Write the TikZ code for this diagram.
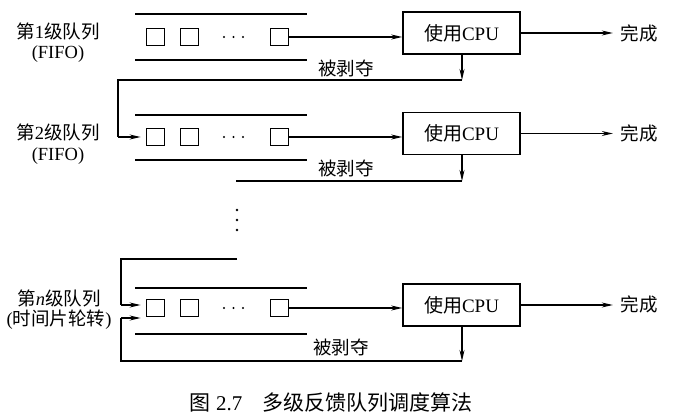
\documentclass[tikz,border=0pt]{standalone}
\usepackage{fontspec}
\setmainfont{Liberation Serif}
\newfontfamily\cjk{Noto Sans CJK SC}
\usetikzlibrary{arrows.meta}
\tikzset{
  sq/.style={draw, line width=1.8pt, minimum width=18pt, minimum height=17pt, inner sep=0pt},
  cpubox/.style={draw, line width=1.6pt, minimum width=117pt, minimum height=42pt, inner sep=0pt, font=\fontsize{19}{22}\selectfont},
  lbl/.style={inner sep=0pt, font=\fontsize{18.5}{22}\selectfont},
  conn/.style={line width=1.2pt},
  arr/.style={line width=1.2pt, -{Stealth[length=11pt,width=5pt]}},
  qline/.style={line width=1.2pt},
}
\begin{document}
\begin{tikzpicture}[x=1pt,y=-1pt]
\useasboundingbox (0,0) rectangle (677,419);
% ---------- row 1 ----------
\draw[qline] (135,14) -- (307,14);
\draw[qline] (135,60) -- (307,60);
\node[sq] (a1) at (155.5,37) {};
\node[sq] (a2) at (189.5,37) {};
\node[sq] (a3) at (279.5,37) {};
\foreach \x in {224,233.5,243} \fill (\x,37) circle (1.2);
\node[cpubox] (c1) at (461.5,33) {{\cjk 使用}CPU};
\node[lbl] (d1) at (639,33) {\cjk 完成};
\node[lbl] (l1a) at (58,31) {{\cjk 第}1{\cjk 级队列}};
\node[lbl] (l1b) at (58,54) {(FIFO)};
\node[lbl] (p1) at (346,68) {\cjk 被剥夺};
\draw[arr] (a3.east) -- (a3.east -| c1.west);
\draw[arr] (c1.east) -- ++(92,0);
\coordinate (f1) at (462,80);
\coordinate (f1c) at (118,80);
\draw[arr] (c1.south -| f1) -- (f1);
% ---------- row 2 ----------
\draw[qline] (135,115) -- (307,115);
\draw[qline] (135,160) -- (307,160);
\node[sq] (b1) at (155.5,137) {};
\node[sq] (b2) at (189.5,137) {};
\node[sq] (b3) at (279.5,137) {};
\foreach \x in {224,233.5,243} \fill (\x,137) circle (1.2);
\node[cpubox] (c2) at (461.5,133.5) {{\cjk 使用}CPU};
\node[lbl] (d2) at (639,133) {\cjk 完成};
\node[lbl] (l2a) at (58,132) {{\cjk 第}2{\cjk 级队列}};
\node[lbl] (l2b) at (58,156) {(FIFO)};
\node[lbl] (p2) at (346,168) {\cjk 被剥夺};
\draw[arr] (b3.east) -- (b3.east -| c2.west);
\draw[arr] (c2.east) -- ++(92,0);
\draw[conn] (f1) -- (f1c) -- (f1c |- b1.west);
\draw[arr, shorten >=5pt] (f1c |- b1.west) -- (b1.west);
\coordinate (f2) at (462,181);
\coordinate (f2e) at (236,181);
\draw[arr] (c2.south -| f2) -- (f2);
\draw[conn] (f2) -- (f2e);
% ---------- vertical dots ----------
\foreach \y in {210,220,230} \fill (237,\y) circle (1.3);
% ---------- row n ----------
\draw[qline] (135,288) -- (307,288);
\draw[qline] (135,334) -- (307,334);
\node[sq] (n1) at (155.5,308) {};
\node[sq] (n2) at (189.5,308) {};
\node[sq] (n3) at (279.5,308) {};
\foreach \x in {224,233.5,243} \fill (\x,308) circle (1.2);
\node[cpubox] (c3) at (461.5,305) {{\cjk 使用}CPU};
\node[lbl] (d3) at (639,304) {\cjk 完成};
\node[lbl] (lna) at (59,298) {{\cjk 第}\textit{n}{\cjk 级队列}};
\node[lbl] (lnb) at (59,320) {({\cjk 时间片轮转})};
\node[lbl] (p3) at (341,347) {\cjk 被剥夺};
\draw[arr] (n3.east) -- (n3.east -| c3.west);
\draw[arr] (c3.east) -- ++(92,0);
\coordinate (g0) at (237,259);
\coordinate (g1) at (121,259);
\coordinate (gt) at (121,305);
\draw[conn] (g0) -- (g1) -- (gt);
\draw[arr, shorten >=5pt] (gt) -- (gt -| n1.west);
\coordinate (h0) at (462,361);
\coordinate (h1) at (121,361);
\coordinate (hb) at (121,318);
\draw[arr] (c3.south -| h0) -- (h0);
\draw[conn] (h0) -- (h1) -- (hb);
\draw[arr, shorten >=5pt] (hb) -- (hb -| n1.west);
% ---------- caption ----------
\node[lbl, font=\fontsize{21}{24}\selectfont] (cap) at (331,403) {{\cjk 图} 2.7\hspace{20pt}{\cjk 多级反馈队列调度算法}};
\end{tikzpicture}
\end{document}
